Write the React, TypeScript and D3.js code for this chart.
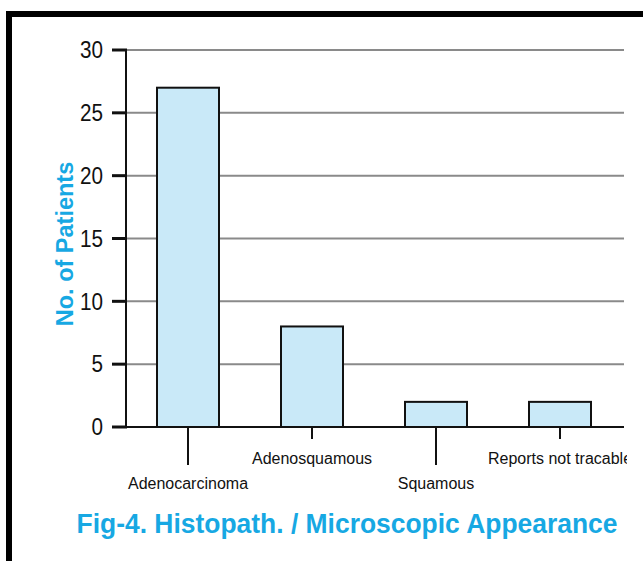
import * as d3 from 'd3';
import * as React from 'react';

const WIDTH = 643;
const HEIGHT = 561;

const categories = ['Adenocarcinoma', 'Adenosquamous', 'Squamous', 'Reports not tracable'];
const patients = [27, 8, 2, 2];
const yTicks = [0, 5, 10, 15, 20, 25, 30];

const BLUE = '#17a8e3';

export default function App() {
  const x = d3.scaleBand<string>().domain(categories).range([126, 622]).paddingInner(0.5).paddingOuter(0.25);
  const y = d3.scaleLinear().domain([0, 30]).range([427, 50]);

  return (
    <svg
      width={WIDTH}
      height={HEIGHT}
      viewBox={`0 0 ${WIDTH} ${HEIGHT}`}
      style={{ position: 'absolute', left: 0, top: 0, background: '#fff' }}
    >
      <defs>
        <clipPath id="clip">
          <rect x={0} y={0} width={627} height={HEIGHT} />
        </clipPath>
      </defs>
      {/* frame */}
      <rect x={6} y={11} width={WIDTH} height={6} fill="#000" />
      <rect x={6} y={11} width={6} height={HEIGHT} fill="#000" />

      {/* gridlines */}
      {yTicks.filter(t => t > 0).map(t => (
        <line key={t} x1={126} x2={624} y1={y(t)} y2={y(t)} stroke="#8a8a8a" strokeWidth={2} />
      ))}

      {/* bars */}
      {patients.map((v, i) => (
        <rect
          key={categories[i]}
          x={x(categories[i]) as number}
          y={y(v)}
          width={x.bandwidth()}
          height={y(0) - y(v)}
          fill="#c9e9f8"
          stroke="#111"
          strokeWidth={2}
        />
      ))}

      {/* y axis */}
      <line x1={126} x2={126} y1={y(30) - 1} y2={y(0)} stroke="#111" strokeWidth={2} />
      <line x1={126} x2={624} y1={y(0)} y2={y(0)} stroke="#111" strokeWidth={2} />
      {yTicks.map(t => (
        <g key={t}>
          <line x1={112} x2={127} y1={y(t)} y2={y(t)} stroke="#111" strokeWidth={3} />
          <text
            transform={`translate(103,${y(t)}) scale(0.88,1)`}
            dy="0.35em"
            textAnchor="end"
            fontFamily="Liberation Sans, Arial, sans-serif"
            fontSize={23.5}
            fill="#111"
          >
            {t}
          </text>
        </g>
      ))}

      {/* category ticks and staggered labels */}
      <g clipPath="url(#clip)">
        {categories.map((c, i) => {
          const cx = (x(c) as number) + x.bandwidth() / 2;
          const low = i % 2 === 0;
          return (
            <g key={c}>
              <line x1={cx} x2={cx} y1={y(0)} y2={low ? 465 : 439} stroke="#111" strokeWidth={2} />
              <text
                x={cx}
                y={low ? 489 : 464}
                textAnchor="middle"
                fontFamily="Liberation Sans Narrow, Arial Narrow, sans-serif"
                fontSize={16}
                fill="#111"
              >
                {c}
              </text>
            </g>
          );
        })}
      </g>

      {/* y axis title */}
      <text
        transform="translate(73,244) rotate(-90)"
        textAnchor="middle"
        fontFamily="Liberation Sans, Arial, sans-serif"
        fontWeight="bold"
        fontSize={23.5}
        fill={BLUE}
      >
        No. of Patients
      </text>

      {/* figure title */}
      <text
        x={347}
        y={533}
        textAnchor="middle"
        fontFamily="Liberation Sans, Arial, sans-serif"
        fontWeight="bold"
        fontSize={27}
        textLength={541}
        lengthAdjust="spacingAndGlyphs"
        fill={BLUE}
      >
        Fig-4. Histopath. / Microscopic Appearance
      </text>
    </svg>
  );
}
